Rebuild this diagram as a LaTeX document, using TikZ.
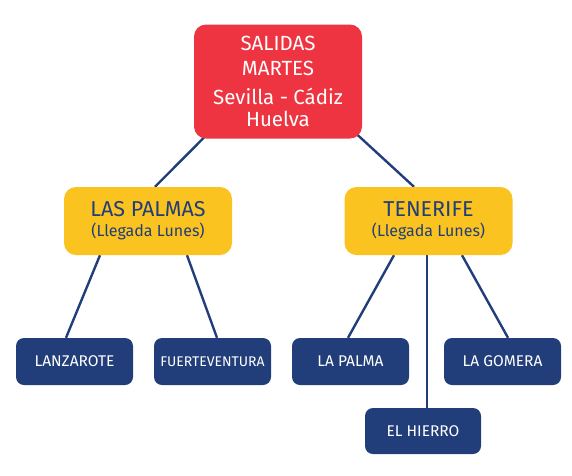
\documentclass[tikz,border=0pt]{standalone}
\usepackage{fontspec}
\setmainfont{Fira Sans}
\usetikzlibrary{backgrounds}
\definecolor{cred}{HTML}{EE3440}
\definecolor{cyel}{HTML}{FBC31F}
\definecolor{cnavy}{HTML}{213E7A}
\begin{document}
\begin{tikzpicture}[x=1pt,y=-1pt,
  topbox/.style={fill=cred,rounded corners=12pt,minimum width=168pt,minimum height=114pt,text=white,align=center,font=\fontsize{20.5}{25}\selectfont,inner sep=0pt},
  midbox/.style={fill=cyel,rounded corners=12pt,minimum width=168pt,minimum height=68pt,text=cnavy,align=center,inner sep=0pt,font=\fontsize{16}{20}\selectfont},
  leafbox/.style={fill=cnavy,rounded corners=8pt,minimum width=117pt,minimum height=47pt,text=white,font=\fontsize{15.5}{18}\selectfont,inner sep=0pt},
  link/.style={draw=cnavy,line width=2.4pt}]
\useasboundingbox (0,0) rectangle (572,475);
\node[topbox] (top) at (278,81.5) {SALIDAS\\MARTES\\[4pt]Sevilla - Cádiz\\[-3pt]Huelva};
\node[midbox] (lp) at (148,221) {{\fontsize{21.5}{20}\selectfont LAS PALMAS}\\(Llegada Lunes)};
\node[midbox] (tf) at (428.5,221) {{\fontsize{21.5}{20}\selectfont TENERIFE}\\(Llegada Lunes)};
\node[leafbox] (lz) at (74.5,361.5) {LANZAROTE};
\node[leafbox,font=\fontsize{14}{18}\selectfont] (fv) at (212.5,361.5) {FUERTEVENTURA};
\node[leafbox] (lpa) at (350.5,361.5) {LA PALMA};
\node[leafbox] (lg) at (502.5,361.5) {LA GOMERA};
\node[leafbox,minimum width=116pt,minimum height=46pt] (eh) at (423,431) {EL HIERRO};
\begin{scope}[on background layer]
\draw[link] ([shift={(11,-2)}]top.south west) -- ([shift={(7,0)}]lp.north);
\draw[link] ([shift={(-6,-5)}]top.south east) -- ([shift={(-14.5,0)}]tf.north);
\draw[link] ([shift={(-48,0)}]lp.south) -- ([shift={(-8.5,0)}]lz.north);
\draw[link] ([shift={(39,0)}]lp.south) -- ([shift={(4.5,0)}]fv.north);
\draw[link] ([shift={(-34.5,0)}]tf.south) -- ([shift={(-2.5,0)}]lpa.north);
\draw[link] ([shift={(-1.5,0)}]tf.south) -- ([shift={(4,0)}]eh.north);
\draw[link] ([shift={(33.5,0)}]tf.south) -- ([shift={(5.5,0)}]lg.north);
\end{scope}
\end{tikzpicture}
\end{document}
